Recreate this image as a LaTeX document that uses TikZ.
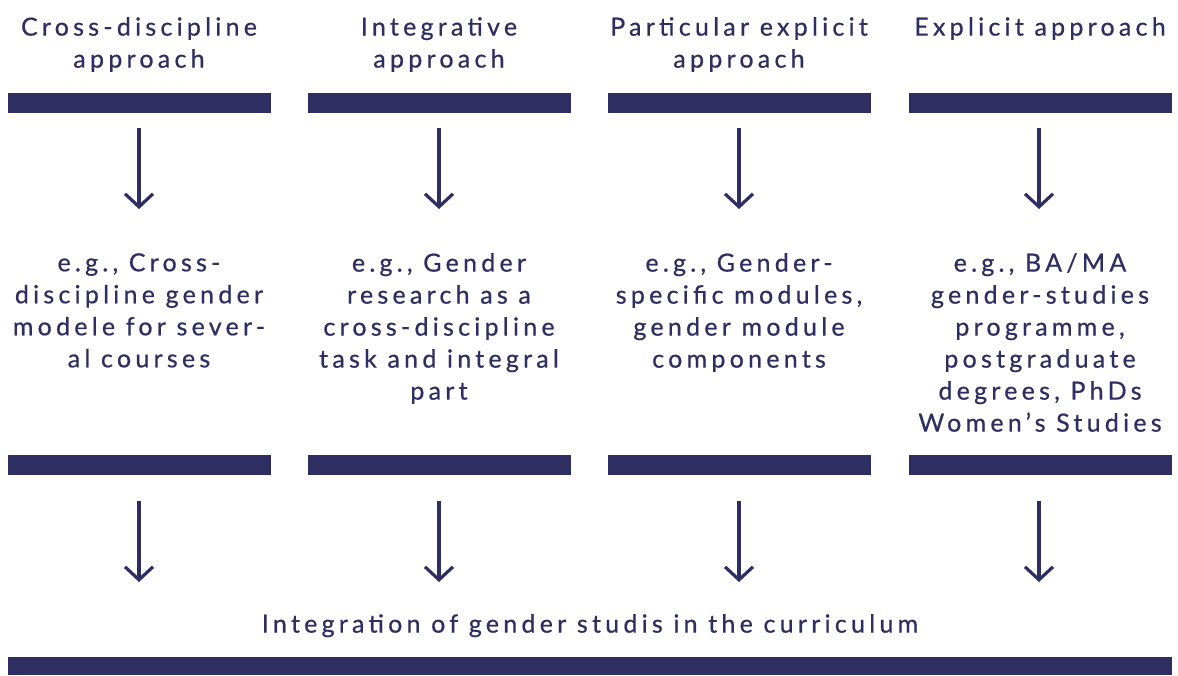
\documentclass[tikz,border=0pt]{standalone}
\usepackage{fontspec}
\setmainfont[LetterSpace=17,FakeBold=0.6]{Lato}
\usetikzlibrary{arrows.meta}
\definecolor{navy}{HTML}{2E2E62}
\begin{document}
\begin{tikzpicture}[x=1pt,y=-1pt,
  bar/.style={fill=navy,draw=none,minimum width=263pt,minimum height=20pt,inner sep=0pt,outer sep=0pt},
  longbar/.style={fill=navy,draw=none,minimum width=1164pt,minimum height=18pt,inner sep=0pt,outer sep=0pt},
  label/.style={text=navy,align=center,font=\fontsize{25}{32}\selectfont,inner sep=0pt,anchor=north},
  arr/.style={draw=navy,line width=3.2pt,-{Straight Barb[length=13pt,width=28pt,line width=3.2pt]}}]
\useasboundingbox (0,0) rectangle (1178,675);
% headings
\node[label] (h1) at (139,17) {Cross-discipline\\approach};
\node[label] (h2) at (439,17) {Integrative\\approach};
\node[label] (h3) at (739,17) {Particular explicit\\approach};
\node[label] (h4) at (1040,17) {Explicit approach};
% top bars
\node[bar] (b1) at (139.5,103) {};
\node[bar] (b2) at (439.5,103) {};
\node[bar] (b3) at (739.5,103) {};
\node[bar] (b4) at (1040,103) {};
% middle texts
\node[label] (t1) at (139,253) {e.g., Cross-\\discipline gender\\modele for sever-\\al courses};
\node[label] (t2) at (439,253) {e.g., Gender\\research as a\\cross-discipline\\task and integral\\part};
\node[label] (t3) at (739,253) {e.g., Gender-\\specific modules,\\gender module\\components};
\node[label] (t4) at (1040,253) {e.g., BA/MA\\gender-studies\\programme,\\postgraduate\\degrees, PhDs\\Women’s Studies};
% lower bars
\node[bar] (c1) at (139.5,465) {};
\node[bar] (c2) at (439.5,465) {};
\node[bar] (c3) at (739.5,465) {};
\node[bar] (c4) at (1040,465) {};
% bottom text and bar
\node[label] (fin) at (590,614) {Integration of gender studis in the curriculum};
\node[longbar] (fb) at (590,666) {};
% arrow end points
\foreach \i/\x in {1/139,2/439,3/739,4/1039}{
  \coordinate (s\i) at (\x,128);
  \coordinate (e\i) at (\x,209);
  \coordinate (u\i) at (\x,501);
  \coordinate (v\i) at (\x,582);
}
\foreach \i in {1,2,3,4}{
  \draw[arr] (s\i) -- (e\i);
  \draw[arr] (u\i) -- (v\i);
}
\end{tikzpicture}
\end{document}
